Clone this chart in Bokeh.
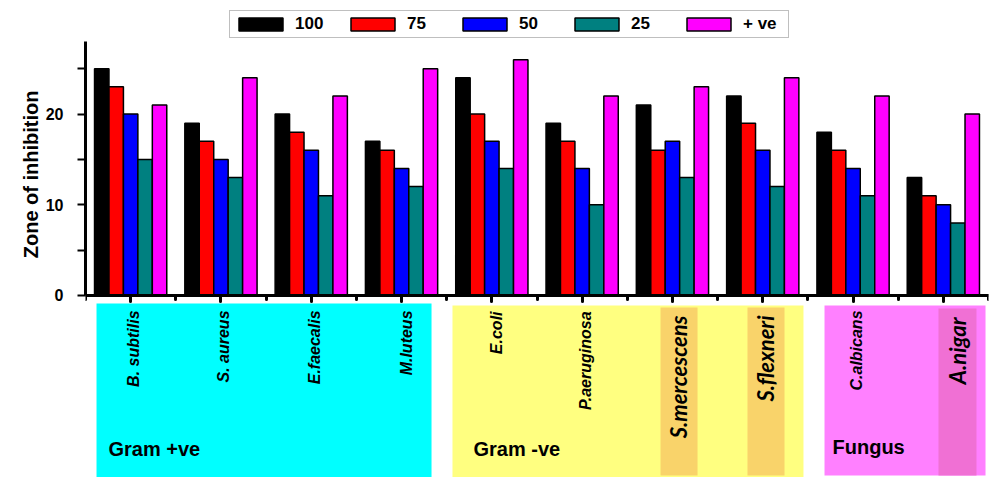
import math
from bokeh.plotting import figure
from bokeh.models import Range1d, FixedTicker, ColumnDataSource, Legend, LegendItem, Title
from bokeh.core.properties import value
from bokeh.embed import file_html
from bokeh.resources import INLINE

# ---------------- data ----------------
organisms = ["B. subtilis", "S. aureus", "E.faecalis", "M.luteus", "E.coli",
             "P.aeruginosa", "S.mercescens", "S.flexneri", "C.albicans", "A.nigar"]
series_names = ["100", "75", "50", "25", "+ ve"]
conc_100 = [25, 19, 20, 17, 24, 19, 21, 22, 18, 13]
conc_75 = [23, 17, 18, 16, 20, 17, 16, 19, 16, 11]
conc_50 = [20, 15, 16, 14, 17, 14, 17, 16, 14, 10]
conc_25 = [15, 13, 11, 12, 14, 10, 13, 12, 11, 8]
positive = [21, 24, 22, 25, 26, 22, 23, 24, 22, 20]
y_tick_values = [0, 10, 20]
y_minor_values = [5, 15, 25]
groups = ["Gram +ve", "Gram -ve", "Fungus"]
group_first = [1, 5, 9]     # first category (1-based) in each group
group_last = [4, 8, 10]     # last category in each group
highlighted = ["S.mercescens", "S.flexneri", "A.nigar"]
y_title = "Zone of inhibition"

# ---------------- styles ----------------
bar_colors = ["#000000", "#FF0000", "#0000FF", "#008080", "#FF00FF"]
group_colors = ["#00FFFF", "#FFFF80", "#FF80FF"]
strip_color = {"S.mercescens": "#F9D36A", "S.flexneri": "#F9D36A", "A.nigar": "#F070D4"}
bar_w = 0.16
FONT = "Liberation Sans"

n = len(organisms)
cat_x = list(range(1, n + 1))

p = figure(width=993, height=477, output_backend="svg", toolbar_location=None,
           x_range=Range1d(0.5, n + 0.5), y_range=Range1d(-20.07, 32.52),
           min_border_left=85, min_border_right=5, min_border_top=0, min_border_bottom=0)
p.outline_line_color = None
p.xgrid.visible = False
p.ygrid.visible = False
p.background_fill_color = "white"
p.border_fill_color = "white"

# ---------- coloured group regions under the axis ----------
g_left_pad = [0.378, 0.436, 0.316]
g_right_pad = [0.332, 0.451, 0.467]
g_top = [-0.88, -1.10, -1.10]
g_bottom = [-20.07, -20.07, -19.85]
p.quad(left=[f - lp for f, lp in zip(group_first, g_left_pad)],
       right=[l + rp for l, rp in zip(group_last, g_right_pad)],
       top=g_top, bottom=g_bottom, fill_color=group_colors, line_color=None)

strip_idx = [organisms.index(h) + 1 for h in highlighted]
s_left_off = [-0.132, -0.169, -0.054]
s_right_off = [0.278, 0.241, 0.367]
s_top = [-1.32, -1.32, -1.43]
p.quad(left=[c + o for c, o in zip(strip_idx, s_left_off)],
       right=[c + o for c, o in zip(strip_idx, s_right_off)],
       top=s_top, bottom=[-19.85] * 3,
       fill_color=[strip_color[h] for h in highlighted], line_color=None)

# ---------- bars ----------
series = [conc_100, conc_75, conc_50, conc_25, positive]
renderers = []
for j, (vals, col) in enumerate(zip(series, bar_colors)):
    off = (j - 2) * bar_w
    src = ColumnDataSource(dict(x=[c + off for c in cat_x], top=vals))
    r = p.vbar(x="x", top="top", bottom=0, width=bar_w, source=src,
               fill_color=col, line_color="black", line_width=1.5)
    renderers.append(r)

# ---------- organism labels ----------
normal = [o for o in organisms if o not in highlighted]
normal_x = [organisms.index(o) + 1 for o in normal]
normal_xoff = [3, 3, 3, 5, 5, 3, 3]
normal_yoff = [15, 15, 15, 15, 16, 16, 15]
p.text(x=normal_x, y=[0] * len(normal), text=normal, angle=math.pi / 2,
       x_offset=normal_xoff, y_offset=normal_yoff,
       text_align="right", text_baseline="middle",
       text_font=value(FONT), text_font_style="bold italic", text_font_size="16px",
       text_color="black")
hl_xoff = [6, 3, 14]
hl_yoff = [20, 20, 22]
p.text(x=strip_idx, y=[0] * len(highlighted), text=highlighted, angle=math.pi / 2,
       x_offset=hl_xoff, y_offset=hl_yoff,
       text_align="right", text_baseline="middle",
       text_font=value("Lato"), text_font_style="bold italic", text_font_size="22px",
       text_color="black")

# ---------- group labels ----------
grp_xoff = [12, 21, 8]
grp_yoff = [154, 154, 152]
p.text(x=[f - lp for f, lp in zip(group_first, g_left_pad)], y=[0] * 3, text=groups,
       x_offset=grp_xoff, y_offset=grp_yoff, text_align="left", text_baseline="middle",
       text_font=value(FONT), text_font_style="bold", text_font_size="20px",
       text_color="black")

# ---------- axes ----------
xa = p.xaxis[0]
xa.ticker = FixedTicker(ticks=cat_x, minor_ticks=[c + 0.5 for c in [0] + cat_x])
xa.fixed_location = 0
xa.axis_line_width = 3
xa.axis_line_color = "black"
xa.major_tick_out = 6
xa.major_tick_in = 0
xa.minor_tick_out = 4
xa.minor_tick_in = 0
xa.major_tick_line_width = 3
xa.minor_tick_line_width = 3
xa.major_tick_line_cap = "round"
xa.minor_tick_line_cap = "round"
xa.major_label_text_font_size = "0px"
xa.major_label_text_color = None

ya = p.yaxis[0]
ya.ticker = FixedTicker(ticks=y_tick_values, minor_ticks=y_minor_values)
ya.bounds = (0, 28)
ya.axis_line_width = 3
ya.axis_line_color = "black"
ya.major_tick_out = 8
ya.major_tick_in = 0
ya.minor_tick_out = 8
ya.minor_tick_in = 0
ya.major_tick_line_width = 2
ya.minor_tick_line_width = 2
ya.major_label_text_font = FONT
ya.major_label_text_font_style = "bold"
ya.major_label_text_font_size = "16px"
ya.major_label_text_color = "black"
ya.major_label_standoff = 14

p.add_layout(Title(text=y_title, align="right", offset=90, standoff=2,
                   text_font=FONT, text_font_style="bold", text_font_size="20px",
                   text_color="black"), "left")

# ---------- legend ----------
legend = Legend(items=[LegendItem(label=nm, renderers=[r]) for nm, r in zip(series_names, renderers)],
                orientation="horizontal", location=(144, 439))
legend.border_line_color = "#808080"
legend.border_line_width = 1.5
legend.background_fill_color = "white"
legend.background_fill_alpha = 1
legend.padding = 3
legend.margin = 0
legend.glyph_width = 55
legend.glyph_height = 16
legend.label_standoff = 7
legend.spacing = 8
legend.label_width = 42
legend.label_text_font = FONT
legend.label_text_font_style = "bold"
legend.label_text_font_size = "17px"
legend.label_text_color = "black"
p.add_layout(legend)

open("out.html", "w").write(file_html(p, INLINE))
